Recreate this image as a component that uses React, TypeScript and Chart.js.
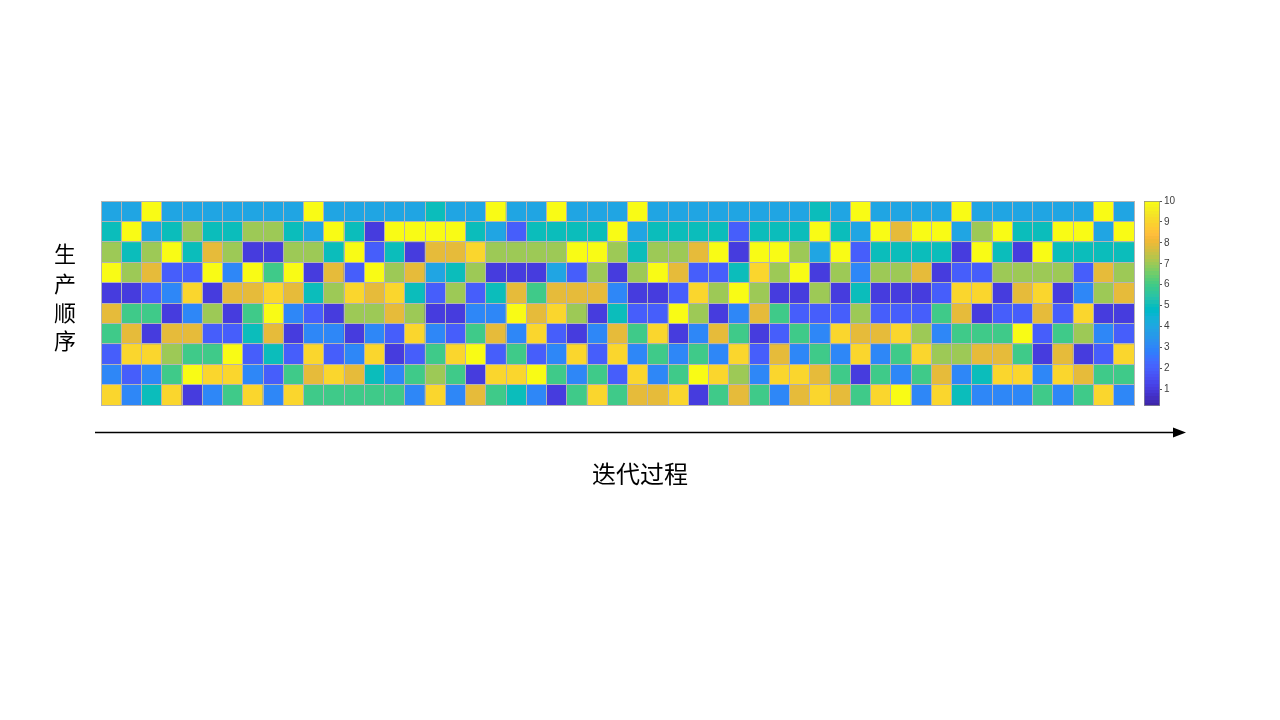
import React, { useEffect, useRef } from "react";
import { Chart, registerables } from "chart.js";

Chart.register(...registerables);

// ---- data: production order (rows, top to bottom) over iterations (columns) ----
const ITERATIONS = Array.from({ length: 51 }, (_, i) => String(i + 1));

const ROW_1 = [4,4,10,4,4,4,4,4,4,4, 10,4,4,4,4,4,5,4,4,10, 4,4,10,4,4,4,10,4,4,4, 4,4,4,4,4,5,4,10,4,4, 4,4,10,4,4,4,4,4,4,10,4];
const ROW_2 = [5,10,4,5,7,5,5,7,7,5, 4,10,5,1,10,10,10,10,5,4, 2,5,5,5,5,10,4,5,5,5, 5,2,5,5,5,10,5,4,10,8, 10,10,4,7,10,5,5,10,10,4,10];
const ROW_3 = [7,5,7,10,5,8,7,1,1,7, 7,5,10,2,5,1,8,8,9,7, 7,7,7,10,10,7,5,7,7,8, 10,1,10,10,7,4,10,2,5,5, 5,5,1,10,5,1,10,5,5,5,5];
const ROW_4 = [10,7,8,2,2,10,3,10,6,10, 1,8,2,10,7,8,4,5,7,1, 1,1,4,2,7,1,7,10,8,2, 2,5,9,7,10,1,7,3,7,7, 8,1,2,2,7,7,7,7,2,8,7];
const ROW_5 = [1,1,2,3,9,1,8,8,9,8, 5,7,9,8,9,5,2,7,2,5, 8,6,8,8,8,3,1,1,2,9, 7,10,7,1,1,7,1,5,1,1, 1,2,9,9,1,8,9,1,3,7,8];
const ROW_6 = [8,6,6,1,3,7,1,6,10,3, 2,1,7,7,8,7,1,1,3,3, 10,8,9,7,1,5,2,2,10,7, 1,3,8,6,2,2,2,7,2,2, 2,6,8,1,2,2,8,2,9,1,1];
const ROW_7 = [6,8,1,8,8,2,2,5,8,1, 3,3,1,3,2,9,3,2,6,8, 3,9,2,1,3,8,6,9,1,3, 8,6,1,2,6,3,9,8,8,9, 7,3,6,6,6,10,2,6,7,3,2];
const ROW_8 = [2,9,9,7,6,6,10,2,5,2, 9,2,3,9,1,2,6,9,10,2, 6,2,3,9,2,9,3,6,3,6, 3,9,2,8,3,6,3,9,3,6, 9,7,7,8,8,6,1,8,1,2,9];
const ROW_9 = [3,2,3,6,10,9,9,3,2,6, 8,9,8,5,3,6,7,6,1,9, 9,10,6,3,6,2,9,3,6,10, 9,7,3,9,9,8,6,1,6,3, 6,8,3,5,9,9,3,9,8,6,6];
const ROW_10 = [9,3,5,9,1,3,6,9,3,9, 6,6,6,6,6,3,9,3,8,6, 5,3,1,6,9,6,8,8,9,1, 6,8,6,3,8,9,8,6,9,10, 3,9,5,3,3,3,6,3,6,9,3];

const ROWS = [ROW_1, ROW_2, ROW_3, ROW_4, ROW_5, ROW_6, ROW_7, ROW_8, ROW_9, ROW_10];

const COLOR_MIN = 0.2;
const COLOR_MAX = 10;
const COLORBAR_TICKS = [1, 2, 3, 4, 5, 6, 7, 8, 9, 10];

const Y_TITLE = ["生", "产", "顺", "序"];
const X_TITLE = "迭代过程";

// MATLAB parula(64)
const PARULA: number[][] = [
  [0.2422,0.1504,0.6603],[0.2504,0.1650,0.7076],[0.2578,0.1818,0.7511],[0.2647,0.1978,0.7952],
  [0.2706,0.2147,0.8364],[0.2751,0.2342,0.8710],[0.2783,0.2559,0.8991],[0.2803,0.2782,0.9221],
  [0.2813,0.3006,0.9414],[0.2810,0.3228,0.9579],[0.2795,0.3447,0.9717],[0.2760,0.3667,0.9829],
  [0.2699,0.3892,0.9906],[0.2602,0.4123,0.9952],[0.2440,0.4358,0.9988],[0.2206,0.4603,0.9973],
  [0.1963,0.4847,0.9892],[0.1834,0.5074,0.9798],[0.1786,0.5289,0.9682],[0.1764,0.5499,0.9520],
  [0.1687,0.5703,0.9359],[0.1540,0.5902,0.9218],[0.1460,0.6091,0.9079],[0.1380,0.6276,0.8973],
  [0.1248,0.6459,0.8883],[0.1113,0.6635,0.8763],[0.0952,0.6798,0.8598],[0.0689,0.6948,0.8394],
  [0.0297,0.7082,0.8163],[0.0036,0.7199,0.7909],[0.0067,0.7300,0.7635],[0.0433,0.7394,0.7350],
  [0.0964,0.7500,0.7048],[0.1408,0.7584,0.6728],[0.1717,0.7670,0.6389],[0.1938,0.7758,0.6040],
  [0.2161,0.7843,0.5693],[0.2470,0.7918,0.5359],[0.2906,0.7973,0.5033],[0.3406,0.8008,0.4725],
  [0.3909,0.8029,0.4428],[0.4456,0.8024,0.4141],[0.5044,0.7993,0.3848],[0.5616,0.7942,0.3597],
  [0.6174,0.7876,0.3353],[0.6720,0.7793,0.3130],[0.7242,0.7698,0.2920],[0.7738,0.7598,0.2737],
  [0.8203,0.7498,0.2567],[0.8634,0.7406,0.2403],[0.9035,0.7330,0.2294],[0.9393,0.7288,0.2114],
  [0.9728,0.7298,0.2239],[0.9956,0.7434,0.2371],[0.9970,0.7659,0.2199],[0.9952,0.7893,0.2028],
  [0.9892,0.8136,0.1885],[0.9786,0.8386,0.1766],[0.9676,0.8639,0.1643],[0.9610,0.8890,0.1537],
  [0.9597,0.9135,0.1423],[0.9628,0.9373,0.1265],[0.9691,0.9606,0.1064],[0.9769,0.9839,0.0805],
];

function parulaCss(i: number): string {
  const c = PARULA[Math.max(0, Math.min(63, i))];
  return `rgb(${Math.round(c[0] * 255)},${Math.round(c[1] * 255)},${Math.round(c[2] * 255)})`;
}

function valueColor(v: number): string {
  const t = (v - COLOR_MIN) / (COLOR_MAX - COLOR_MIN);
  return parulaCss(Math.floor(t * 64));
}

const GRID_COLOR = "#b4b4b4";

const annotationPlugin = {
  id: "annot",
  afterDraw(chart: any) {
    const ctx = chart.ctx as CanvasRenderingContext2D;
    ctx.save();
    // arrow
    ctx.strokeStyle = "#000";
    ctx.fillStyle = "#000";
    ctx.lineWidth = 1.3;
    ctx.beginPath();
    ctx.moveTo(95, 432.5);
    ctx.lineTo(1175, 432.5);
    ctx.stroke();
    ctx.beginPath();
    ctx.moveTo(1173, 427.5);
    ctx.lineTo(1186, 432.5);
    ctx.lineTo(1173, 437.5);
    ctx.closePath();
    ctx.fill();
    // titles
    ctx.fillStyle = "#000";
    ctx.textAlign = "center";
    ctx.textBaseline = "middle";
    ctx.font = '24px "Noto Sans CJK SC"';
    ctx.fillText(X_TITLE, 640, 474);
    ctx.font = '22px "Noto Sans CJK SC"';
    const ys = [254, 284, 313, 341];
    Y_TITLE.forEach((ch, i) => ctx.fillText(ch, 65, ys[i]));
    ctx.restore();
  },
};

export default function App() {
  const mainRef = useRef<HTMLCanvasElement | null>(null);
  const barRef = useRef<HTMLCanvasElement | null>(null);

  useEffect(() => {
    if (!mainRef.current || !barRef.current) return;

    const datasets = ROWS.map((row, r) => ({
      label: `第${r + 1}位`,
      data: ITERATIONS.map(() => 1),
      backgroundColor: row.map(valueColor),
      borderWidth: 0,
      barPercentage: 1,
      categoryPercentage: 1,
      stack: "s",
    }));

    const main = new Chart(mainRef.current, {
      type: "bar",
      data: { labels: ITERATIONS, datasets },
      options: {
        animation: false,
        responsive: false,
        events: [],
        layout: { padding: { left: 101, right: 146, top: 201, bottom: 315 } },
        plugins: { legend: { display: false }, tooltip: { enabled: false } },
        scales: {
          x: {
            stacked: true,
            offset: true,
            ticks: { display: false },
            grid: { display: true, offset: true, color: GRID_COLOR, lineWidth: 1, drawTicks: false, z: 1 },
            border: { display: true, color: GRID_COLOR, z: 1 },
          },
          y: {
            stacked: true,
            reverse: true,
            min: 0,
            max: 10,
            ticks: { display: false, stepSize: 1 },
            grid: { display: true, color: GRID_COLOR, lineWidth: 1, drawTicks: false, z: 1 },
            border: { display: true, color: GRID_COLOR, z: 1 },
          },
        },
      },
      plugins: [annotationPlugin],
    });

    const bar = new Chart(barRef.current, {
      type: "bar",
      data: {
        labels: ["cb"],
        datasets: [
          {
            data: [[COLOR_MIN, COLOR_MAX]] as any,
            backgroundColor: (c: any) => {
              const ch = c.chart;
              const a = ch.chartArea;
              if (!a) return parulaCss(0);
              const g = ch.ctx.createLinearGradient(0, a.bottom, 0, a.top);
              for (let i = 0; i < 64; i++) {
                g.addColorStop(i / 64, parulaCss(i));
                g.addColorStop((i + 1) / 64, parulaCss(i));
              }
              return g;
            },
            borderColor: "#8e8e8e",
            borderWidth: 1,
            borderSkipped: false,
            barPercentage: 1,
            categoryPercentage: 1,
          },
        ],
      },
      options: {
        animation: false,
        responsive: false,
        events: [],
        layout: { padding: { left: 8, right: 0, top: 201, bottom: 314 } },
        plugins: { legend: { display: false }, tooltip: { enabled: false } },
        scales: {
          x: { display: false },
          y: {
            position: "right",
            min: COLOR_MIN,
            max: COLOR_MAX,
            afterBuildTicks: (axis: any) => {
              axis.ticks = COLORBAR_TICKS.map((v) => ({ value: v }));
            },
            afterFit: (axis: any) => {
              axis.width = 40;
            },
            ticks: {
              padding: 2,
              color: "#404040",
              font: { family: '"Liberation Sans", Arial, sans-serif', size: 10 },
            },
            grid: { display: true, drawOnChartArea: false, drawTicks: true, tickLength: 2, color: "#555" },
            border: { display: false },
          },
        },
      },
    });

    return () => {
      main.destroy();
      bar.destroy();
    };
  }, []);

  return (
    <div style={{ position: "fixed", left: 0, top: 0, width: 1280, height: 720, background: "#fff" }}>
      <canvas ref={mainRef} width={1280} height={720} style={{ position: "absolute", left: 0, top: 0, width: 1280, height: 720 }} />
      <canvas ref={barRef} width={64} height={720} style={{ position: "absolute", left: 1136, top: 0, width: 64, height: 720 }} />
    </div>
  );
}
